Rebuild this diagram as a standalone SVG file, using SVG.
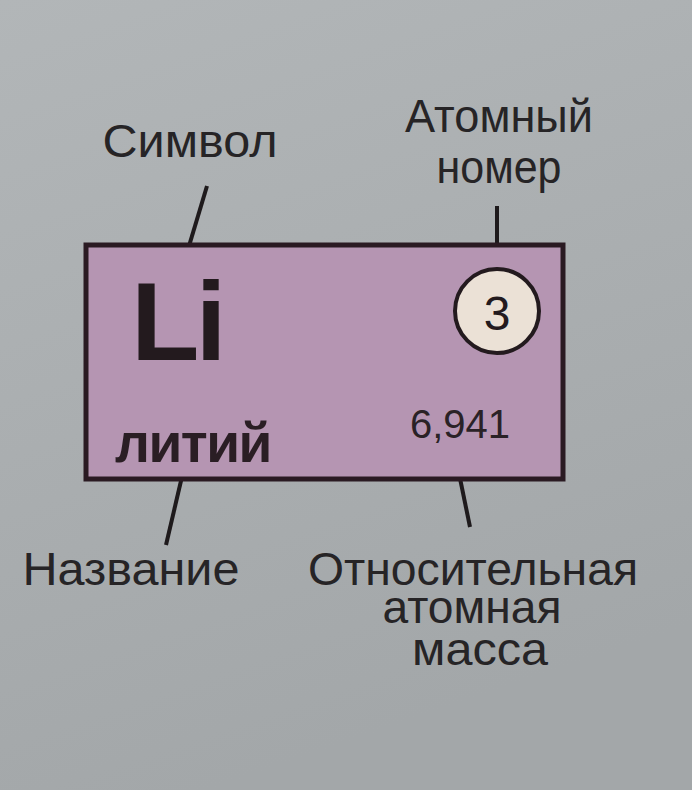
<svg xmlns="http://www.w3.org/2000/svg" width="692" height="790" viewBox="0 0 692 790">
<defs>
<linearGradient id="bg" x1="0" y1="0" x2="0.3" y2="1">
<stop offset="0" stop-color="#b2b6b8"/>
<stop offset="1" stop-color="#a3a7a9"/>
</linearGradient>
<style>
.lbl{font-family:"Liberation Sans",Arial,sans-serif;font-size:46px;fill:#262426;text-anchor:middle}
.ln{stroke:#1e1a1c;stroke-width:4;fill:none}
</style>
</defs>
<rect width="692" height="790" fill="url(#bg)"/>
<g id="connectors">
<line class="ln" x1="207" y1="186" x2="183" y2="266"/>
<line class="ln" x1="497" y1="206" x2="497" y2="268"/>
<line class="ln" x1="184" y1="468" x2="166" y2="545"/>
<line class="ln" x1="455" y1="454" x2="470" y2="527"/>
</g>
<g id="element-box">
<rect x="86" y="245" width="477" height="234" fill="#b595b2" stroke="#2a1a22" stroke-width="5"/>
<text x="131" y="360" font-family="'Liberation Sans',Arial,sans-serif" font-weight="bold" font-size="112" fill="#231a1e" letter-spacing="-4">Li</text>
<text x="115" y="462" font-family="'Liberation Sans',Arial,sans-serif" font-weight="bold" font-size="55" fill="#2a1e24" letter-spacing="-1.5">литий</text>
<text x="460" y="438" font-family="'Liberation Sans',Arial,sans-serif" font-size="40" fill="#2a2226" text-anchor="middle">6,941</text>
</g>
<g id="atomic-number">
<circle cx="497" cy="311" r="42" fill="#ebe1d6" stroke="#231a1e" stroke-width="4"/>
<text x="497" y="330" font-family="'Liberation Sans',Arial,sans-serif" font-size="48" fill="#231a1e" text-anchor="middle">3</text>
</g>
<g id="label-symbol"><text class="lbl" x="190" y="157" textLength="175" lengthAdjust="spacingAndGlyphs">Символ</text></g>
<g id="label-number"><text class="lbl" x="499" y="132" textLength="188" lengthAdjust="spacingAndGlyphs">Атомный</text><text class="lbl" x="499" y="183" textLength="125" lengthAdjust="spacingAndGlyphs">номер</text></g>
<g id="label-name"><text class="lbl" x="131" y="585" textLength="217" lengthAdjust="spacingAndGlyphs">Название</text></g>
<g id="label-mass"><text class="lbl" x="473" y="585" textLength="330" lengthAdjust="spacingAndGlyphs">Относительная</text><text class="lbl" x="472" y="623" textLength="179" lengthAdjust="spacingAndGlyphs">атомная</text><text class="lbl" x="480" y="665" textLength="136" lengthAdjust="spacingAndGlyphs">масса</text></g>
</svg>
